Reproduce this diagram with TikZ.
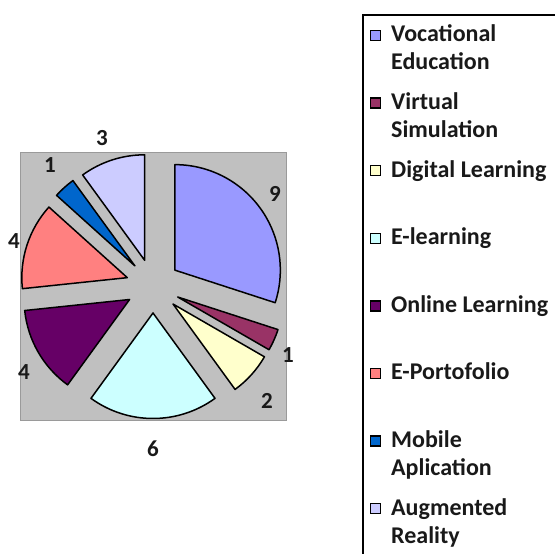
\documentclass[tikz,border=0pt]{standalone}
\usepackage{fontspec}
\setmainfont{Carlito}
\usetikzlibrary{calc}
\definecolor{cVoc}{HTML}{9999FF}
\definecolor{cVir}{HTML}{993366}
\definecolor{cDig}{HTML}{FFFFCC}
\definecolor{cEle}{HTML}{CCFFFF}
\definecolor{cOnl}{HTML}{660066}
\definecolor{cEpo}{HTML}{FF8080}
\definecolor{cMob}{HTML}{0066CC}
\definecolor{cAug}{HTML}{CCCCFF}
\definecolor{plotgray}{HTML}{C0C0C0}
\definecolor{framegray}{HTML}{9A9A9A}
\tikzset{
  slice/.style={draw=black, line width=1.5pt, line join=round},
  lbl/.style={font=\fontsize{23}{28}\selectfont\bfseries, inner sep=0pt, text=black!90},
  legtext/.style={font=\fontsize{24}{28}\selectfont\bfseries, inner sep=0pt, anchor=base west, text=black!90},
  legmark/.style={draw=black, line width=1.4pt, minimum size=10pt, inner sep=0pt}
}
\begin{document}
\begin{tikzpicture}[x=1pt,y=1pt]
\useasboundingbox (0,0) rectangle (555,554);
% plot area
\fill[plotgray] (20,133) rectangle (286,401);
\draw[framegray, line width=1pt] (20,133) rectangle (286,401);
\coordinate (c) at (153,268);
\def\dd{27}
\def\rr{105.5}
\foreach \a/\b/\col in {90/-18/cVoc, -18/-30/cVir, -30/-54/cDig, -54/-126/cEle, -126/-174/cOnl, -174/-222/cEpo, -222/-234/cMob, -234/-270/cAug}{
  \pgfmathsetmacro{\m}{(\a+\b)/2}
  \coordinate (apex) at ($(c)+(\m:\dd)$);
  \filldraw[slice, fill=\col] (apex) -- ++(\a:\rr) arc[start angle=\a, end angle=\b, radius=\rr] -- cycle;
}
% data labels
\node[lbl] (l9) at (275,360.5) {9};
\node[lbl] (l1a) at (288,199) {1};
\node[lbl] (l2) at (267,153) {2};
\node[lbl] (l6) at (153,105) {6};
\node[lbl] (l4a) at (24,182) {4};
\node[lbl] (l4b) at (14,313) {4};
\node[lbl] (l1b) at (50,389) {1};
\node[lbl] (l3) at (102,416) {3};
% legend frame
\draw[black, line width=1.5pt] (363,-2) -- (363,539) -- (557,539);
% legend entries
\foreach \i/\col/\ta/\tb in {0/cVoc/Vocational/Education, 1/cVir/Virtual/Simulation, 2/cDig/Digital Learning/, 3/cEle/E-learning/, 4/cOnl/Online Learning/, 5/cEpo/E-Portofolio/, 6/cMob/Mobile/Aplication, 7/cAug/Augmented/Reality}{
  \pgfmathsetmacro{\yb}{554-42-67.6*\i}
  \node[legmark, fill=\col] (m\i) at (375.5,\yb+6.5) {};
  \node[legtext] (ta\i) at (391,\yb) {\ta};
  \node[legtext] (tb\i) at (391,\yb-28) {\tb};
}
\end{tikzpicture}
\end{document}
